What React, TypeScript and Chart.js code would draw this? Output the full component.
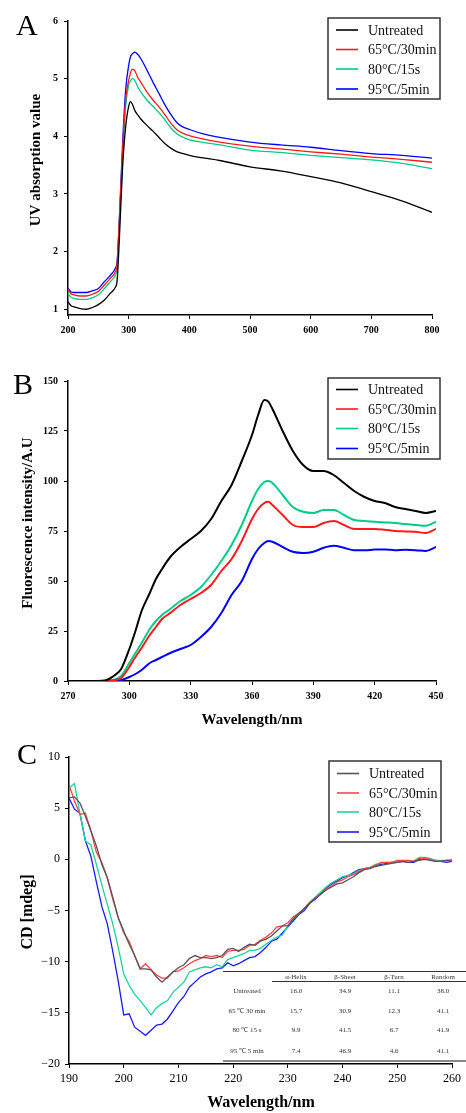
import React, { useEffect, useRef } from 'react';
import { Chart, registerables } from 'chart.js';
Chart.register(...registerables);

const FONT = '"Liberation Serif", "Times New Roman", Times, serif';

const seriesLabels = ['Untreated', '65°C/30min', '80°C/15s', '95°C/5min'];
const colorsAB = ['#000000', '#ff1a1a', '#00cc88', '#0000ff'];
const colorsC = ['#555555', '#ff4545', '#1ed39a', '#1a1aff'];

// Panel A: UV absorption
const uvWavelength = [200, 205, 210, 220, 230, 240, 250, 260, 270, 278, 281, 285, 290, 295, 300, 303, 306, 310, 315, 320, 330, 340, 350, 360, 370, 380, 390, 400, 420, 450, 500, 550, 600, 650, 700, 750, 800];
const uvUntreated = [1.13, 1.06, 1.04, 1.01, 1.0, 1.03, 1.08, 1.16, 1.28, 1.38, 1.5, 2.3, 3.47, 4.16, 4.52, 4.6, 4.56, 4.45, 4.37, 4.3, 4.19, 4.09, 3.98, 3.87, 3.79, 3.73, 3.7, 3.67, 3.63, 3.58, 3.47, 3.4, 3.3, 3.19, 3.04, 2.88, 2.68];
const uv65 = [1.35, 1.27, 1.25, 1.23, 1.23, 1.26, 1.31, 1.42, 1.54, 1.65, 1.78, 2.6, 3.76, 4.63, 4.97, 5.1, 5.16, 5.14, 5.02, 4.94, 4.77, 4.63, 4.51, 4.37, 4.22, 4.11, 4.05, 4.01, 3.96, 3.9, 3.83, 3.78, 3.73, 3.69, 3.64, 3.6, 3.55];
const uv80 = [1.28, 1.21, 1.19, 1.17, 1.17, 1.2, 1.25, 1.36, 1.48, 1.59, 1.72, 2.55, 3.64, 4.51, 4.89, 4.96, 5.0, 4.97, 4.86, 4.77, 4.63, 4.52, 4.41, 4.28, 4.14, 4.04, 3.98, 3.94, 3.9, 3.85, 3.76, 3.72, 3.67, 3.63, 3.59, 3.53, 3.44];
const uv95 = [1.36, 1.3, 1.29, 1.29, 1.29, 1.32, 1.36, 1.48, 1.59, 1.71, 1.83, 2.66, 3.88, 4.8, 5.23, 5.38, 5.43, 5.46, 5.42, 5.35, 5.15, 4.94, 4.74, 4.54, 4.37, 4.23, 4.16, 4.12, 4.05, 3.98, 3.9, 3.85, 3.81, 3.75, 3.7, 3.67, 3.62];

// Panel B: fluorescence
const flWavelength = [270, 280, 288, 290, 293, 296, 300, 303, 306, 310, 313, 316, 320, 325, 330, 335, 340, 345, 350, 355, 360, 363, 366, 368, 370, 375, 380, 385, 390, 395, 400, 405, 410, 415, 420, 425, 430, 435, 440, 445, 450];
const flUntreated = [0, 0, 0.3, 1, 3, 6, 16, 25, 35, 44, 51, 56, 62, 67, 71, 75, 81, 90, 98, 110, 123, 133, 140.5, 139.7, 136, 125, 115, 108, 105, 105, 103, 99, 95, 92, 90, 89, 87, 86, 85, 84, 85];
const fl65 = [0, 0, 0, 0.2, 0.5, 1.5, 7, 12, 16.5, 23, 27, 31, 34, 38, 41, 44, 48, 55, 61, 70, 81, 86, 89, 89.6, 88, 83, 78, 77, 77, 79, 80, 78, 76, 76, 76, 75.6, 75, 74.8, 74.6, 74, 76];
const fl80 = [0, 0, 0, 0.3, 0.8, 2.5, 9, 14, 19, 26, 30, 33, 36, 40, 43, 47, 53, 60, 68, 78, 90, 96, 99.5, 100, 99, 93, 87, 84.6, 84, 85.5, 85.5, 83, 80.5, 80, 79.6, 79.3, 79, 78.5, 78, 77.6, 79.6];
const fl95 = [0, 0, 0, 0, 0.1, 0.5, 2, 3.5, 5.5, 9, 10.5, 12, 14, 16, 18, 22, 27, 34, 43, 50, 61, 66, 69, 70, 69.6, 67, 64.6, 64, 64.6, 66.6, 67.6, 66.6, 65.4, 65.4, 65.7, 65.8, 65.4, 65.6, 65.4, 65, 67];

// Panel C: circular dichroism
const cdWavelength = [190, 191, 192, 193, 194, 195, 196, 197, 198, 199, 200, 201, 202, 203, 204, 205, 206, 207, 208, 209, 210, 211, 212, 213, 214, 215, 216, 217, 218, 219, 220, 221, 222, 223, 224, 225, 226, 227, 228, 229, 230, 231, 232, 233, 234, 235, 236, 237, 238, 239, 240, 241, 242, 243, 244, 245, 246, 247, 248, 249, 250, 251, 252, 253, 254, 255, 256, 257, 258, 259, 260];
const cdUntreated = [6.0, 6.1, 5.5, 4.2, 2.8, 1.3, -0.5, -1.8, -3.7, -5.7, -7.0, -8.3, -9.4, -10.7, -10.7, -10.8, -11.5, -12.0, -11.5, -11.0, -10.6, -10.3, -9.7, -9.4, -9.6, -9.6, -9.7, -9.6, -9.4, -8.8, -8.7, -9.0, -8.6, -8.3, -8.4, -8.0, -7.8, -7.5, -7.0, -6.5, -6.5, -5.8, -5.3, -4.8, -4.3, -3.8, -3.4, -3.0, -2.7, -2.4, -2.3, -2.0, -1.7, -1.3, -1.0, -0.9, -0.7, -0.6, -0.5, -0.4, -0.3, -0.2, -0.3, -0.2, -0.1, 0.0, -0.1, -0.2, -0.2, -0.1, -0.2];
const cd65 = [7.3, 5.7, 4.4, 4.5, 2.8, 0.7, -0.3, -1.8, -3.9, -5.7, -7.2, -8.0, -9.4, -10.7, -10.2, -10.8, -11.3, -11.6, -11.6, -11.0, -10.9, -10.6, -10.2, -9.9, -9.7, -9.4, -9.5, -9.4, -9.6, -9.0, -8.9, -8.9, -8.8, -8.4, -8.3, -7.9, -7.6, -7.2, -6.6, -6.5, -6.2, -5.6, -5.3, -4.8, -4.2, -3.8, -3.4, -2.9, -2.6, -2.2, -2.0, -1.7, -1.5, -1.2, -0.9, -0.8, -0.6, -0.3, -0.3, -0.3, -0.1, -0.1, -0.1, -0.2, 0.1, 0.1, 0.0, -0.2, -0.2, -0.1, -0.1];
const cd80 = [7.0, 7.4, 4.5, 1.8, 1.4, -0.5, -2.5, -4.4, -6.3, -8.6, -11.2, -12.3, -13.2, -13.8, -14.5, -15.2, -14.5, -14.1, -13.8, -13.0, -12.5, -12.0, -11.0, -10.8, -10.6, -10.5, -10.6, -10.3, -10.5, -9.8, -9.6, -9.4, -9.2, -8.9, -8.9, -8.7, -8.3, -7.9, -7.6, -7.4, -6.5, -5.8, -5.3, -4.8, -4.2, -3.7, -3.2, -2.7, -2.3, -2.0, -1.7, -1.6, -1.4, -1.1, -0.9, -0.8, -0.5, -0.4, -0.3, -0.3, -0.2, -0.2, -0.1, -0.2, 0.2, 0.2, 0.1, -0.1, -0.1, -0.1, 0.0];
const cd95 = [6.0, 4.9, 4.5, 1.8, 0.3, -2.2, -4.6, -6.3, -9.0, -11.9, -15.2, -15.1, -16.4, -16.8, -17.2, -16.7, -16.2, -16.1, -15.6, -14.8, -14.0, -13.4, -12.5, -12.0, -11.5, -11.2, -11.0, -10.7, -10.6, -10.1, -10.4, -10.2, -9.9, -9.6, -9.5, -9.1, -8.6, -8.0, -7.8, -7.2, -6.6, -6.0, -5.4, -5.0, -4.3, -3.9, -3.4, -2.8, -2.4, -2.1, -1.8, -1.6, -1.3, -1.0, -0.9, -0.8, -0.6, -0.5, -0.4, -0.3, -0.3, -0.2, -0.3, -0.3, 0.0, 0.1, 0.0, -0.1, -0.2, -0.3, -0.2];

// Secondary-structure table in panel C
const tableHeaders = ['α-Helix', 'β-Sheet', 'β-Turn', 'Random'];
const tableRowLabels = ['Untreated', '65 ℃ 30 min', '80 ℃ 15 s', '95 ℃ 5 min'];
const alphaHelix = [16.0, 15.7, 9.9, 7.4];
const betaSheet = [34.9, 30.9, 41.5, 46.9];
const betaTurn = [11.1, 12.3, 6.7, 4.6];
const randomCoil = [38.0, 41.1, 41.9, 41.1];

const zip = (xs: number[], ys: number[]) => xs.map((x, i) => ({ x, y: ys[i] }));

interface Spec {
  W: number; H: number;
  area: { left: number; right: number; top: number; bottom: number };
  x: { min: number; max: number; step: number };
  y: { min: number; max: number; step: number };
  tickFont: { size: number; weight: string };
  xPad: number; yPad: number;
  lineWidth: number; smooth: boolean;
  colors: string[];
  series: { x: number; y: number }[][];
  unicodeMinus?: boolean;
  letter: { text: string; x: number; y: number };
  yTitle?: { text: string; x: number; y: number; size: number };
  xTitle?: { text: string; x: number; y: number; size: number };
  legend: { left: number; top: number; right: number; bottom: number; rows: number[]; size: number };
  table?: boolean;
}

function decoPlugin(spec: Spec) {
  return {
    id: 'deco',
    afterDraw(chart: any) {
      const ctx: CanvasRenderingContext2D = chart.ctx;
      ctx.save();
      ctx.fillStyle = '#000';
      ctx.font = `normal 30px ${FONT}`;
      ctx.textAlign = 'left';
      ctx.textBaseline = 'alphabetic';
      ctx.fillText(spec.letter.text, spec.letter.x, spec.letter.y);
      if (spec.yTitle) {
        ctx.save();
        ctx.translate(spec.yTitle.x, spec.yTitle.y);
        ctx.rotate(-Math.PI / 2);
        ctx.font = `bold ${spec.yTitle.size}px ${FONT}`;
        ctx.textAlign = 'center';
        ctx.textBaseline = 'middle';
        ctx.fillText(spec.yTitle.text, 0, 0);
        ctx.restore();
      }
      if (spec.xTitle) {
        ctx.font = `bold ${spec.xTitle.size}px ${FONT}`;
        ctx.textAlign = 'center';
        ctx.textBaseline = 'middle';
        ctx.fillText(spec.xTitle.text, spec.xTitle.x, spec.xTitle.y);
      }
      // legend
      const L = spec.legend;
      ctx.fillStyle = '#fff';
      ctx.fillRect(L.left, L.top, L.right - L.left, L.bottom - L.top);
      ctx.strokeStyle = '#333';
      ctx.lineWidth = 1.5;
      ctx.strokeRect(L.left, L.top, L.right - L.left, L.bottom - L.top);
      chart.data.datasets.forEach((ds: any, i: number) => {
        const yy = L.rows[i];
        ctx.strokeStyle = ds.borderColor;
        ctx.lineWidth = 1.6;
        ctx.beginPath();
        ctx.moveTo(L.left + 8, yy);
        ctx.lineTo(L.left + 30, yy);
        ctx.stroke();
        ctx.fillStyle = '#111';
        ctx.font = `normal ${L.size}px ${FONT}`;
        ctx.textAlign = 'left';
        ctx.textBaseline = 'middle';
        ctx.fillText(ds.label, L.left + 40, yy + 1);
      });
      if (spec.table) {
        const top = 239, head = 249, bottom = 329;
        ctx.strokeStyle = '#333';
        ctx.lineWidth = 1;
        ctx.beginPath();
        ctx.moveTo(223, top + 0.5); ctx.lineTo(466, top + 0.5);
        ctx.moveTo(272, head + 0.5); ctx.lineTo(466, head + 0.5);
        ctx.stroke();
        ctx.strokeStyle = '#888';
        ctx.lineWidth = 2;
        ctx.beginPath();
        ctx.moveTo(223, bottom); ctx.lineTo(466, bottom);
        ctx.stroke();
        ctx.fillStyle = '#333';
        ctx.font = `normal 7px ${FONT}`;
        ctx.textAlign = 'center';
        ctx.textBaseline = 'middle';
        const colX = [296, 345, 394, 443];
        tableHeaders.forEach((h, i) => ctx.fillText(h, colX[i], 245));
        const rowY = [259, 279, 298, 319];
        const cols = [alphaHelix, betaSheet, betaTurn, randomCoil];
        tableRowLabels.forEach((r, j) => {
          ctx.fillText(r, 247, rowY[j]);
          cols.forEach((c, i) => ctx.fillText(c[j].toFixed(1), colX[i], rowY[j]));
        });
      }
      ctx.restore();
    },
  };
}

function buildChart(canvas: HTMLCanvasElement, spec: Spec) {
  const a = spec.area;
  const tickFont = { family: FONT, size: spec.tickFont.size, weight: spec.tickFont.weight as any };
  return new Chart(canvas, {
    type: 'line',
    data: {
      datasets: spec.series.map((d, i) => ({
        label: seriesLabels[i],
        data: d,
        borderColor: spec.colors[i],
        backgroundColor: spec.colors[i],
        borderWidth: spec.lineWidth,
        pointRadius: 0,
        fill: false,
        tension: spec.smooth ? 0.4 : 0,
        cubicInterpolationMode: spec.smooth ? 'monotone' : 'default',
      })) as any,
    },
    options: {
      responsive: false,
      animation: false,
      devicePixelRatio: 1,
      layout: { padding: { left: 0, top: a.top, right: spec.W - a.right, bottom: 0 } },
      plugins: { legend: { display: false }, tooltip: { enabled: false } },
      scales: {
        x: {
          type: 'linear',
          min: spec.x.min,
          max: spec.x.max,
          ticks: { stepSize: spec.x.step, color: '#000', font: tickFont, padding: spec.xPad, maxRotation: 0, includeBounds: false } as any,
          grid: { drawOnChartArea: false, drawTicks: true, tickLength: 4, color: '#000', tickWidth: 1 },
          border: { display: true, color: '#000', width: 1.5 },
          afterFit: (s: any) => { s.height = spec.H - a.bottom; },
        },
        y: {
          type: 'linear',
          min: spec.y.min,
          max: spec.y.max,
          ticks: {
            stepSize: spec.y.step, color: '#000', font: tickFont, padding: spec.yPad, includeBounds: false,
            callback: (v: any) => (spec.unicodeMinus ? String(v).replace('-', '\u2212') : String(v)),
          } as any,
          grid: { drawOnChartArea: false, drawTicks: true, tickLength: 4, color: '#000', tickWidth: 1 },
          border: { display: true, color: '#000', width: 1.5 },
          afterFit: (s: any) => { s.width = a.left; },
        },
      },
    } as any,
    plugins: [decoPlugin(spec)],
  });
}

const specA: Spec = {
  W: 466, H: 350,
  area: { left: 68, right: 432, top: 21, bottom: 315 },
  x: { min: 200, max: 800, step: 100 },
  y: { min: 0.9, max: 6, step: 1 },
  tickFont: { size: 10, weight: 'bold' },
  xPad: 5, yPad: 6,
  lineWidth: 1.3, smooth: true,
  colors: colorsAB,
  series: [zip(uvWavelength, uvUntreated), zip(uvWavelength, uv65), zip(uvWavelength, uv80), zip(uvWavelength, uv95)],
  letter: { text: 'A', x: 16, y: 35 },
  yTitle: { text: 'UV absorption value', x: 36, y: 160, size: 15 },
  legend: { left: 328, top: 18, right: 440, bottom: 99, rows: [30, 49.5, 69, 89], size: 14 },
};

const specB: Spec = {
  W: 466, H: 382,
  area: { left: 68, right: 436, top: 31, bottom: 331 },
  x: { min: 270, max: 450, step: 30 },
  y: { min: 0, max: 150, step: 25 },
  tickFont: { size: 10, weight: 'bold' },
  xPad: 5, yPad: 6,
  lineWidth: 2, smooth: true,
  colors: colorsAB,
  series: [zip(flWavelength, flUntreated), zip(flWavelength, fl65), zip(flWavelength, fl80), zip(flWavelength, fl95)],
  letter: { text: 'B', x: 13, y: 44 },
  yTitle: { text: 'Fluorescence intensity/A.U', x: 28, y: 173, size: 15 },
  xTitle: { text: 'Wavelength/nm', x: 252, y: 370, size: 15 },
  legend: { left: 328, top: 28, right: 440, bottom: 109, rows: [39.5, 59, 78.5, 98.5], size: 14 },
};

const specC: Spec = {
  W: 466, H: 381,
  area: { left: 69, right: 452, top: 25, bottom: 332 },
  x: { min: 190, max: 260, step: 10 },
  y: { min: -20, max: 10, step: 5 },
  tickFont: { size: 12, weight: 'normal' },
  xPad: 4, yPad: 5,
  lineWidth: 1.3, smooth: false,
  colors: colorsC,
  series: [zip(cdWavelength, cdUntreated), zip(cdWavelength, cd65), zip(cdWavelength, cd80), zip(cdWavelength, cd95)],
  unicodeMinus: true,
  letter: { text: 'C', x: 17, y: 32 },
  yTitle: { text: 'CD [mdeg]', x: 28, y: 180, size: 16 },
  xTitle: { text: 'Wavelength/nm', x: 261, y: 371, size: 16 },
  legend: { left: 329, top: 29, right: 441, bottom: 110, rows: [41.5, 61, 80, 100], size: 14 },
  table: true,
};

export default function App() {
  const refA = useRef<HTMLCanvasElement>(null);
  const refB = useRef<HTMLCanvasElement>(null);
  const refC = useRef<HTMLCanvasElement>(null);
  useEffect(() => {
    const charts = [
      buildChart(refA.current!, specA),
      buildChart(refB.current!, specB),
      buildChart(refC.current!, specC),
    ];
    return () => charts.forEach((c) => c.destroy());
  }, []);
  return (
    <div style={{ position: 'absolute', left: 0, top: 0, width: 466, height: 1113, background: '#fff' }}>
      <canvas ref={refA} width={466} height={350} style={{ position: 'absolute', left: 0, top: 0 }} />
      <canvas ref={refB} width={466} height={382} style={{ position: 'absolute', left: 0, top: 350 }} />
      <canvas ref={refC} width={466} height={381} style={{ position: 'absolute', left: 0, top: 732 }} />
    </div>
  );
}
